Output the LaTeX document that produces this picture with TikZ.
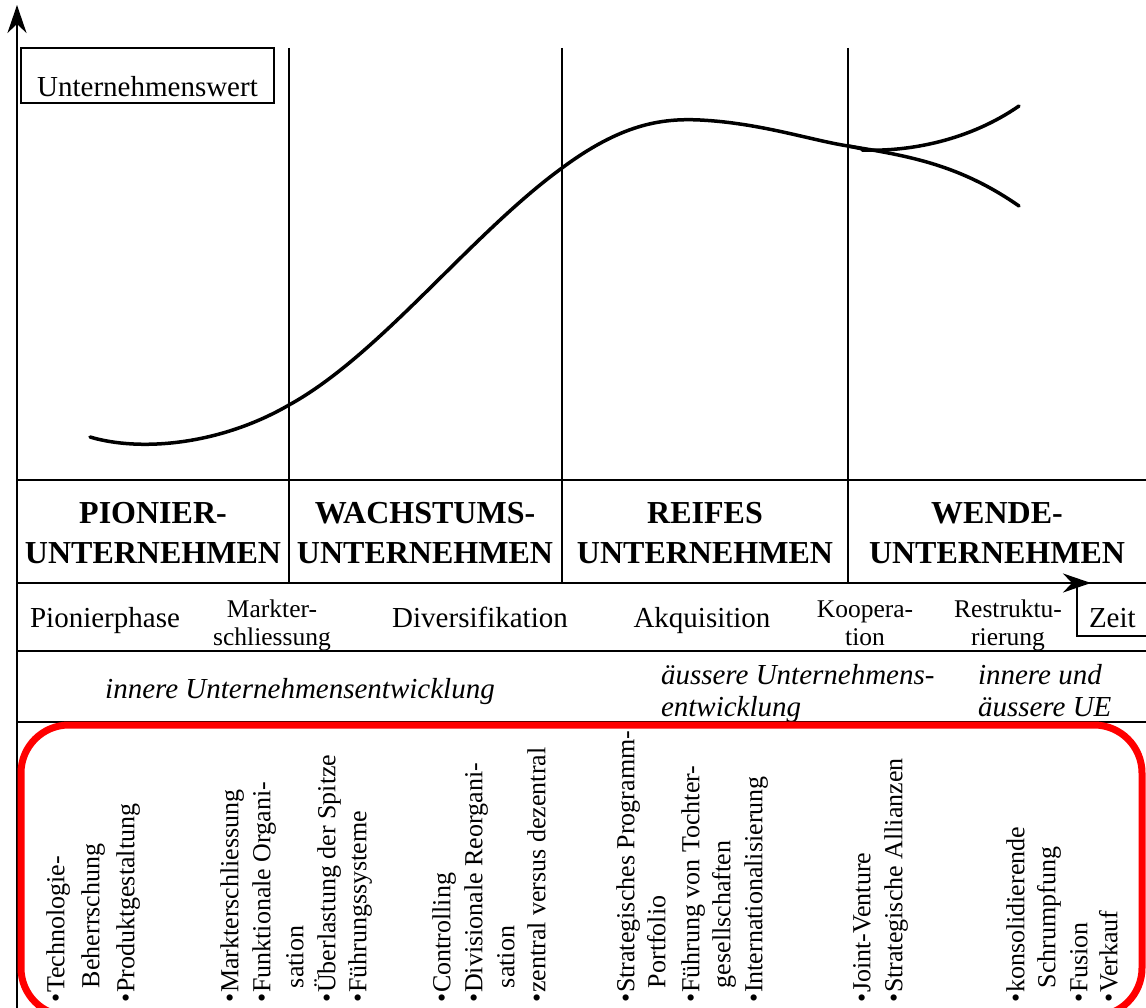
\documentclass[tikz,border=0pt]{standalone}
\usepackage{fontspec}
\setmainfont{Liberation Serif}
\usetikzlibrary{arrows.meta, positioning}
\definecolor{cred}{HTML}{FF0000}
\tikzset{
  every picture/.style={x=1pt, y=-1pt, line width=2pt},
  rule/.style={draw=black, line width=2pt},
  axis/.style={-{Stealth[length=28pt, width=19pt, inset=9pt]}, line width=2.5pt},
  curve/.style={line width=3.5pt, line cap=round},
  framebox/.style={draw, line width=2pt, outer sep=0pt, inner xsep=#1, font=\fontsize{29}{33}\selectfont},
  phase/.style={font=\fontsize{32}{40}\selectfont\bfseries, align=center, inner sep=0pt},
  stage/.style={font=\fontsize{29}{33}\selectfont, inner sep=0pt, anchor=base},
  stagetwo/.style={font=\fontsize{25.5}{28}\selectfont, align=center, inner sep=0pt},
  dev/.style={font=\fontsize{29}{32}\selectfont\itshape, align=left, inner sep=0pt},
  vtext/.style={font=\fontsize{26}{32}\selectfont, rotate=90, anchor=mid west, inner sep=0pt},
}

\begin{document}
\begin{tikzpicture}
  \useasboundingbox (0,0) rectangle (1146,1008);
  % axes
  \coordinate (orig) at (17,1008);
  \coordinate (vtip) at (17,5);
  \coordinate (tstart) at (17,583);
  \coordinate (ttip) at (1091,583);
  \draw[axis] (orig) -- (vtip);
  \draw[axis] (tstart) -- (ttip);
  % table lines
  \foreach \y in {480,651,722} {\draw[rule] (17,\y) -- (1146,\y);}
  \foreach \x in {289,562,848} {\draw[rule] (\x,48) -- (\x,583);}
  \node[framebox=14pt, text height=47pt, text depth=4pt, inner ysep=2pt, minimum width=253pt, anchor=north west] (wert) at (21,48) {Unternehmenswert};
  \node[framebox=12pt, text height=41pt, text depth=6pt, inner ysep=3pt, minimum width=69pt, anchor=north west] (zeit) at (1077,583) {Zeit};
  % value curve
  \draw[curve] (90,437) .. controls (140,452) and (220,445) .. (289,405)
    .. controls (380,355) and (470,235) .. (562,168)
    .. controls (620,125) and (660,118) .. (700,120)
    .. controls (760,123) and (810,140) .. (848,146)
    .. controls (856,147.5) and (862,149) .. (868,150);
  \draw[curve] (862,150) .. controls (910,152) and (970,140) .. (1019,106);
  \draw[curve] (848,146) .. controls (910,156) and (960,165) .. (1019,206);
  % phases
  \node[phase] (pion) at (153,533) {PIONIER-\\UNTERNEHMEN};
  \node[phase] (wach) at (425,533) {WACHSTUMS-\\UNTERNEHMEN};
  \node[phase] (reif) at (705,533) {REIFES\\UNTERNEHMEN};
  \node[phase] (wend) at (997,533) {WENDE-\\UNTERNEHMEN};
  % stages
  \node[stage] (pphase) at (105,627) {Pionierphase};
  \node[stagetwo] (markt) at (272,625) {Markter-\\schliessung};
  \node[stage] (divers) at (480,627) {Diversifikation};
  \node[stage] (akqu) at (702,627) {Akquisition};
  \node[stagetwo] (koop) at (865,623) {Koopera-\\tion};
  \node[stagetwo] (restr) at (1008,625) {Restruktu-\\rierung};
  % development
  \node[dev, anchor=base] (inner) at (300,698) {innere Unternehmensentwicklung};
  \node[dev, anchor=north west] (outer) at (660,663) {äussere Unternehmens-\\entwicklung};
  \node[dev, anchor=north west] (both) at (977,663) {innere und\\äussere UE};
  % measures
  \draw[cred, line width=7pt, rounded corners=48pt] (21,725) rectangle (1142,1016);
  \foreach \x/\y/\t [count=\i] in {
      62/1003/{\textbullet Technologie-}, 97/989/Beherrschung, 132/1003/{\textbullet Produktgestaltung},
      236/1003/{\textbullet Markterschliessung}, 268/1003/{\textbullet Funktionale Organi-}, 301/989/sation,
      333/1003/{\textbullet Überlastung der Spitze}, 364/1003/{\textbullet Führungssysteme},
      448/1003/{\textbullet Controlling}, 480/1003/{\textbullet Divisionale Reorgani-}, 512/989/sation,
      543/1003/{\textbullet zentral versus dezentral},
      632/1003/{\textbullet Strategisches Programm-}, 663/989/Portfolio, 697/1003/{\textbullet Führung von Tochter-},
      728/989/gesellschaften, 760/1003/{\textbullet Internationalisierung},
      868/1003/{\textbullet Joint-Venture}, 900/1003/{\textbullet Strategische Allianzen},
      1022/1003/{\textbullet konsolidierende}, 1053/989/Schrumpfung, 1085/1003/{\textbullet Fusion},
      1115/1003/{\textbullet Verkauf}}
    \node[vtext] (m\i) at (\x,\y) {\t};
\end{tikzpicture}
\end{document}
